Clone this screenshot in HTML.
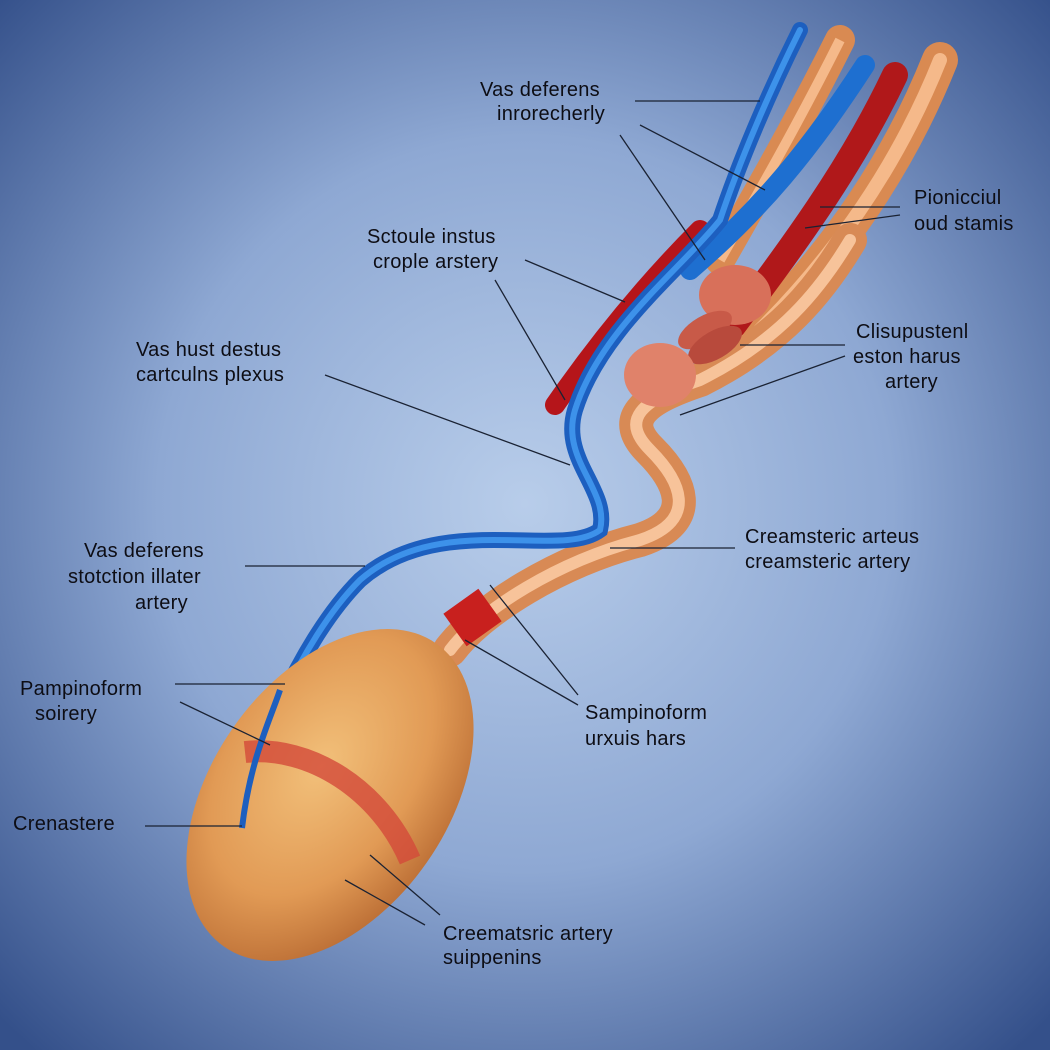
<!DOCTYPE html>
<html><head><meta charset="utf-8"><style>
html,body{margin:0;padding:0;width:1050px;height:1050px;overflow:hidden}
svg{display:block}
text{font-family:"Liberation Sans",sans-serif;font-size:20px;fill:#0d0d14;font-weight:normal;letter-spacing:0.3px}
</style></head><body>
<svg width="1050" height="1050" viewBox="0 0 1050 1050" xmlns="http://www.w3.org/2000/svg">
<defs>
<radialGradient id="bg" cx="50%" cy="48%" r="70%">
<stop offset="0" stop-color="#b8cdea"/><stop offset="0.5" stop-color="#8ea8d3"/><stop offset="1" stop-color="#34508a"/>
</radialGradient>
<radialGradient id="tes" cx="55%" cy="40%" r="65%">
<stop offset="0" stop-color="#f2c07a"/><stop offset="0.6" stop-color="#e19a55"/><stop offset="1" stop-color="#b86a32"/>
</radialGradient>
</defs>
<rect width="1050" height="1050" fill="url(#bg)"/>
<path d="M940,60 C900,160 840,250 760,330" stroke="#d98a52" stroke-width="36" fill="none" stroke-linecap="round"/>
<path d="M940,60 C900,160 840,250 760,330" stroke="#f5b98a" stroke-width="14" fill="none" stroke-linecap="round"/>
<path d="M840,40 C800,120 760,190 720,260" stroke="#d98a52" stroke-width="30" fill="none" stroke-linecap="round"/>
<path d="M840,40 C800,120 760,190 720,260" stroke="#f5b98a" stroke-width="10" fill="none"/>
<path d="M895,75 C850,170 790,250 730,330" stroke="#b0181a" stroke-width="26" fill="none" stroke-linecap="round"/>
<path d="M865,65 C810,150 760,210 690,270" stroke="#1e6fd0" stroke-width="20" fill="none" stroke-linecap="round"/>
<path d="M450,650 C480,610 560,560 640,540 C700,520 680,480 650,450 C620,420 640,400 700,380 C780,340 820,290 850,240" stroke="#d88a55" stroke-width="34" fill="none" stroke-linecap="round"/>
<path d="M450,650 C480,610 560,560 640,540 C700,520 680,480 650,450 C620,420 640,400 700,380 C780,340 820,290 850,240" stroke="#f7c39a" stroke-width="12" fill="none" stroke-linecap="round"/>
<path d="M455,630 L490,605" stroke="#c8201e" stroke-width="40" fill="none"/>
<path d="M555,405 C600,340 650,280 700,230" stroke="#b5151a" stroke-width="20" fill="none" stroke-linecap="round"/>
<path d="M242,828 C250,760 300,640 360,580 C440,510 560,560 600,530 C610,490 560,460 575,410 C600,330 680,270 720,220 C740,160 770,90 800,30" stroke="#1d5fbf" stroke-width="16" fill="none" stroke-linecap="round"/>
<path d="M242,828 C250,760 300,640 360,580 C440,510 560,560 600,530 C610,490 560,460 575,410 C600,330 680,270 720,220 C740,160 770,90 800,30" stroke="#3d92ea" stroke-width="6" fill="none" stroke-linecap="round"/>
<ellipse cx="735" cy="295" rx="36" ry="30" fill="#d8705a"/>
<ellipse cx="705" cy="330" rx="30" ry="14" fill="#c85a48" transform="rotate(-30 705 330)"/>
<ellipse cx="715" cy="345" rx="30" ry="14" fill="#b84a3c" transform="rotate(-30 715 345)"/>
<ellipse cx="660" cy="375" rx="36" ry="32" fill="#e0826a"/>
<ellipse cx="330" cy="795" rx="185" ry="118" transform="rotate(-55 330 795)" fill="url(#tes)"/>
<path d="M245,752 C310,745 380,790 410,860" stroke="#d34a3a" stroke-width="22" fill="none" opacity="0.8"/>
<path d="M242,828 C250,760 270,720 280,690" stroke="#1d5fbf" stroke-width="6" fill="none"/>
<g stroke="#1a2233" stroke-width="1.3" fill="none">
<line x1="635" y1="101" x2="760" y2="101"/>
<line x1="640" y1="125" x2="765" y2="190"/>
<line x1="620" y1="135" x2="705" y2="260"/>
<line x1="525" y1="260" x2="625" y2="302"/>
<line x1="495" y1="280" x2="565" y2="400"/>
<line x1="325" y1="375" x2="570" y2="465"/>
<line x1="900" y1="207" x2="820" y2="207"/>
<line x1="900" y1="215" x2="805" y2="228"/>
<line x1="845" y1="345" x2="740" y2="345"/>
<line x1="845" y1="356" x2="680" y2="415"/>
<line x1="735" y1="548" x2="610" y2="548"/>
<line x1="245" y1="566" x2="365" y2="566"/>
<line x1="175" y1="684" x2="285" y2="684"/>
<line x1="180" y1="702" x2="270" y2="745"/>
<line x1="145" y1="826" x2="242" y2="826"/>
<line x1="578" y1="695" x2="490" y2="585"/>
<line x1="578" y1="705" x2="465" y2="640"/>
<line x1="440" y1="915" x2="370" y2="855"/>
<line x1="425" y1="925" x2="345" y2="880"/>
</g>
<text x="480" y="96">Vas deferens</text>
<text x="497" y="120">inrorecherly</text>
<text x="367" y="243">Sctoule instus</text>
<text x="373" y="268">crople arstery</text>
<text x="136" y="356">Vas hust destus</text>
<text x="136" y="381">cartculns plexus</text>
<text x="914" y="204">Pionicciul</text>
<text x="914" y="230">oud stamis</text>
<text x="856" y="338">Clisupustenl</text>
<text x="853" y="363">eston harus</text>
<text x="885" y="388">artery</text>
<text x="745" y="543">Creamsteric arteus</text>
<text x="745" y="568">creamsteric artery</text>
<text x="84" y="557">Vas deferens</text>
<text x="68" y="583">stotction illater</text>
<text x="135" y="609">artery</text>
<text x="20" y="695">Pampinoform</text>
<text x="35" y="720">soirery</text>
<text x="585" y="719">Sampinoform</text>
<text x="585" y="745">urxuis hars</text>
<text x="13" y="830">Crenastere</text>
<text x="443" y="940">Creematsric artery</text>
<text x="443" y="964">suippenins</text>
</svg>
</body></html>
